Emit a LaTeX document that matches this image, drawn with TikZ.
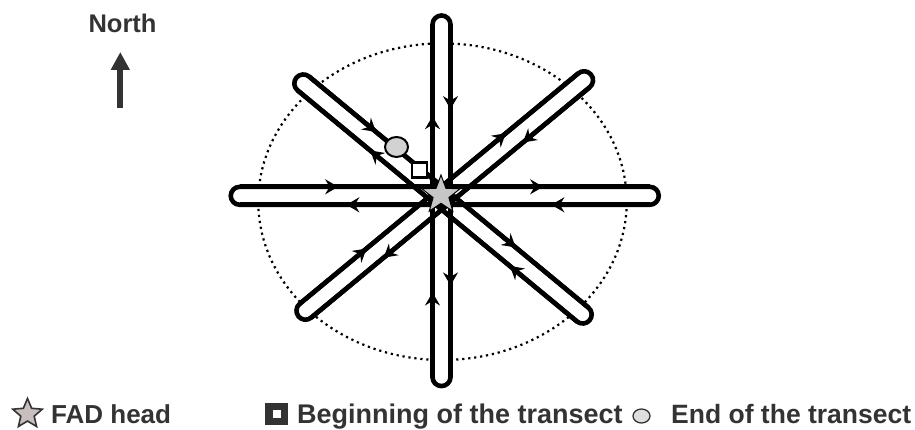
\documentclass[tikz,border=0pt]{standalone}
\usepackage{fontspec}
\setmainfont{Liberation Sans}
\usetikzlibrary{arrows.meta,decorations.markings,shapes.geometric}
\definecolor{txt}{RGB}{51,51,51}
\definecolor{legstarcol}{RGB}{200,190,190}
\definecolor{legcirccol}{RGB}{222,222,222}
\tikzset{
  barline/.style={line width=4.6pt, black, line join=round},
  flowarrow/.style={postaction={decorate}, decoration={markings,
    mark=at position 0.24 with {\arrow{Stealth[length=13pt,width=15pt,inset=4.5pt]}},
    mark=at position 0.74 with {\arrow{Stealth[length=13pt,width=15pt,inset=4.5pt]}}}},
  legtext/.style={anchor=base west, text=txt, inner sep=0pt,
    font=\fontsize{27}{30}\selectfont\bfseries},
}
\begin{document}
\begin{tikzpicture}[x=1pt,y=1pt]
\useasboundingbox (0,0) rectangle (915,430);
\fill[white] (0,0) rectangle (915,430);
% dotted circle
\draw[line width=2.2pt, dash pattern=on 2.2pt off 3.8pt] (442.5,228.3) ellipse [x radius=184.2, y radius=158.3];
% bar interiors
\foreach \cx/\cy/\ang/\L in {444.75/234.2/0/205, 441.5/229.2/90/176.3, 443/231/-39.6/181.3, 444.75/234.5/39.6/180.8}{
  \begin{scope}[shift={(\cx,\cy)}, rotate=\ang]
    \fill[white] (-\L,9) -- (\L,9) arc[start angle=90,end angle=-90,radius=9] -- (-\L,-9) arc[start angle=270,end angle=90,radius=9] -- cycle;
  \end{scope}
}
% bar outlines and flow arrows
\foreach \cx/\cy/\ang/\L in {444.75/234.2/0/205, 441.5/229.2/90/176.3, 443/231/-39.6/181.3, 444.75/234.5/39.6/180.8}{
  \begin{scope}[shift={(\cx,\cy)}, rotate=\ang]
    \draw[barline] (-\L,9) -- (\L,9) arc[start angle=90,end angle=-90,radius=9] -- (-\L,-9) arc[start angle=270,end angle=90,radius=9] -- cycle;
    \draw[barline, flowarrow] (-\L,9) -- (\L,9);
    \draw[barline, flowarrow] (\L,-9) -- (-\L,-9);
  \end{scope}
}
% markers
\node[star, star points=5, star point ratio=2.4, minimum size=40pt, inner sep=0pt, draw=black, line width=1pt, fill=gray!45] (fad) at (441,235) {};
\node[draw=black, fill=white, line width=2.6pt, minimum size=15pt, inner sep=0pt] (startsq) at (419.5,260) {};
\node[ellipse, draw=black, fill=gray!35, line width=2pt, minimum width=23pt, minimum height=20pt, inner sep=0pt] (endc) at (396.5,283) {};
\draw[line width=2.6pt] (endc) -- (startsq.north west);
% north arrow
\node[anchor=base, text=txt, inner sep=0pt, font=\fontsize{25.5}{28}\selectfont\bfseries] (north) at (122.5,397) {North};
\coordinate (nbase) at (120.3,322);
\coordinate (ntip) at (120.3,378);
\draw[txt, line width=6pt, -{Triangle[length=18pt,width=18pt]}] (nbase) -- (ntip);
% legend
\node[star, star points=5, star point ratio=2.2, minimum size=31pt, inner sep=0pt, draw=txt, line width=1.6pt, fill=legstarcol] (legstar) at (27.5,16) {};
\node[legtext, font=\fontsize{26}{30}\selectfont\bfseries] (legfad) at (51,6) {FAD head};
\node[fill=txt, minimum width=23pt, minimum height=22pt, inner sep=0pt] (legsq) at (276.5,16) {};
\node[fill=white, minimum size=8pt, inner sep=0pt] (legsqin) at (legsq) {};
\node[legtext] (legbeg) at (297,6) {Beginning of the transect};
\node[ellipse, draw=txt, fill=legcirccol, line width=1.3pt, minimum width=17pt, minimum height=14pt, inner sep=0pt] (legcirc) at (641.5,14) {};
\node[legtext, font=\fontsize{26.5}{30}\selectfont\bfseries] (legend) at (671,6) {End of the transect};
\end{tikzpicture}
\end{document}
